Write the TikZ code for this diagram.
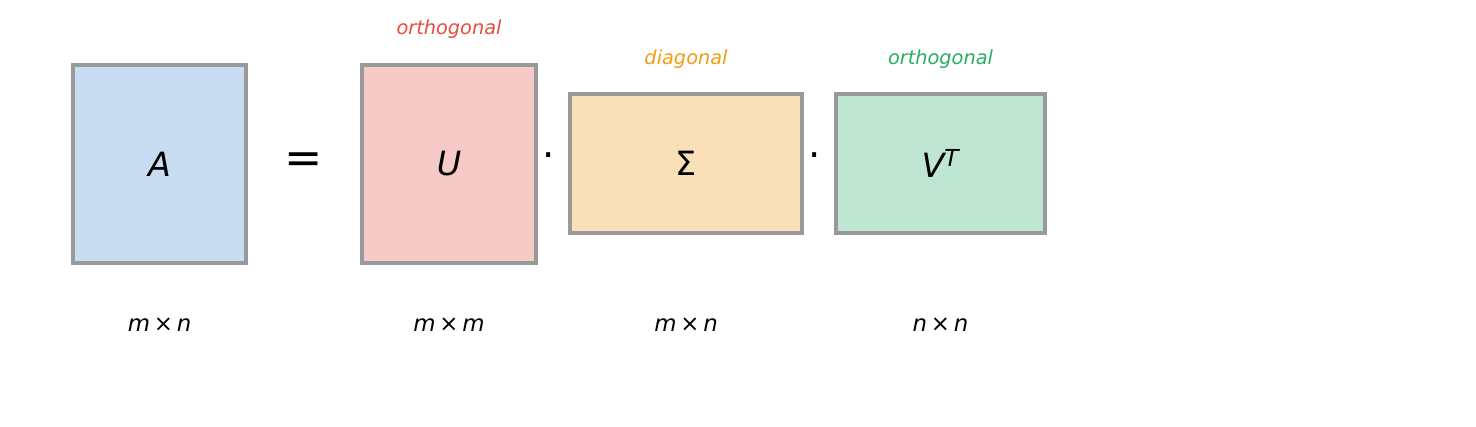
\documentclass[tikz,border=0pt]{standalone}
\usepackage{fontspec}
\setmainfont{DejaVu Sans}
\definecolor{fillA}{HTML}{C8DCF2}
\definecolor{fillU}{HTML}{F6CAC6}
\definecolor{fillS}{HTML}{FAE0B8}
\definecolor{fillV}{HTML}{BFE6D3}
\definecolor{txtred}{HTML}{E74C3C}
\definecolor{txtorange}{HTML}{F39C12}
\definecolor{txtgreen}{HTML}{27AE60}
\begin{document}
\begin{tikzpicture}[x=0.02cm,y=-0.02cm,
    mat/.style={draw=gray!80,line width=2pt,inner sep=0pt,font=\fontsize{19}{22}\selectfont\itshape},
    dim/.style={font=\fontsize{13}{16}\selectfont\itshape},
    tag/.style={font=\fontsize{11}{14}\selectfont\itshape},
    op/.style={font=\fontsize{22}{24}\selectfont}]
    \useasboundingbox (0,0) rectangle (1476,426);
    \node[mat,fill=fillA,minimum width=173*0.02cm,minimum height=198*0.02cm] (A) at (159.5,164) {A};
    \node[op,font=\fontsize{26}{28}\selectfont] (eq) at (304,163) {=};
    \node[mat,fill=fillU,minimum width=174*0.02cm,minimum height=198*0.02cm] (U) at (449,164) {U};
    \node[op] (dot1) at (549,161) {·};
    \node[mat,fill=fillS,minimum width=232*0.02cm,minimum height=139*0.02cm,font=\fontsize{19}{22}\selectfont] (S) at (686,163.5) {Σ};
    \node[op] (dot2) at (815,161) {·};
    \node[mat,fill=fillV,minimum width=209*0.02cm,minimum height=139*0.02cm] (V) at (940.5,163.5) {V\textsuperscript{T}};
    % dimensions
    \node[dim] (dA) at (159.5,325) {m\,×\,n};
    \node[dim] (dU) at (449,325) {m\,×\,m};
    \node[dim] (dS) at (686,325) {m\,×\,n};
    \node[dim] (dV) at (940.5,325) {n\,×\,n};
    % properties
    \node[tag,text=txtred] (tU) at (449,29) {orthogonal};
    \node[tag,text=txtorange] (tS) at (686,59) {diagonal};
    \node[tag,text=txtgreen] (tV) at (940.5,59) {orthogonal};
\end{tikzpicture}
\end{document}
